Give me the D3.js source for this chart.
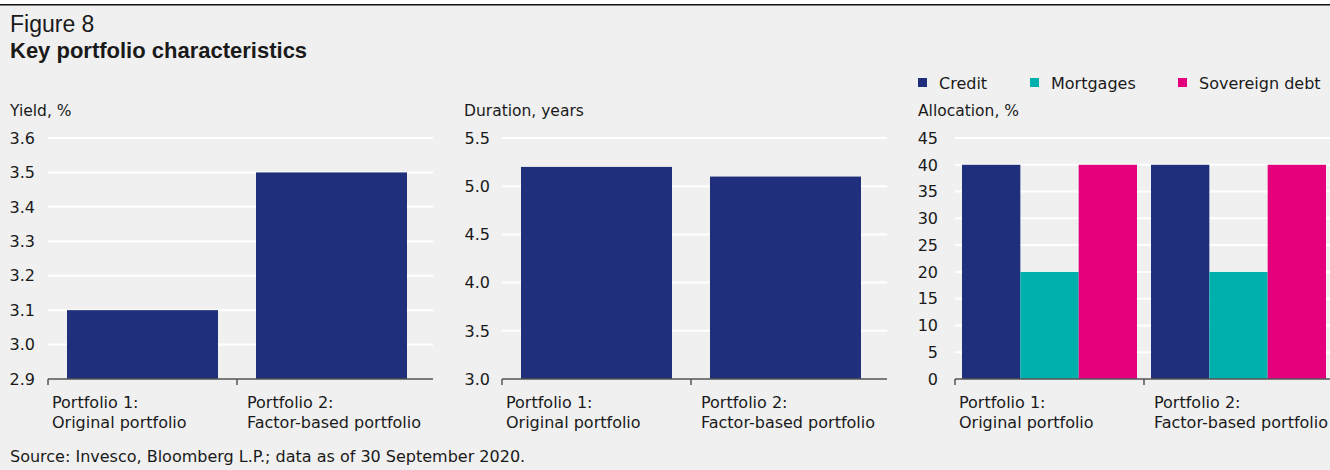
<!DOCTYPE html>
<html>
<head>
<meta charset="utf-8">
<script src="https://cdn.jsdelivr.net/npm/d3@7"></script>
<style>
    body { margin: 0; background: #f0f0f0; }
    svg { display: block; font-family: "DejaVu Sans", sans-serif; }
    .grid line { stroke: #ffffff; stroke-width: 2; }
    .axisLine { stroke: #555555; stroke-width: 1.5; }
    text { fill: #1a1a1a; }
    .head { font-family: "Liberation Sans", Arial, sans-serif; }
</style>
</head>
<body>
<svg width="1330" height="470"></svg>
<script>
// data
const portfolioNames = ["Portfolio 1", "Portfolio 2"]
const portfolioLabels = [["Portfolio 1:", "Original portfolio"], ["Portfolio 2:", "Factor-based portfolio"]]

const yieldValues = [3.1, 3.5]
const yieldTicks = [2.9, 3.0, 3.1, 3.2, 3.3, 3.4, 3.5, 3.6]

const durationValues = [5.2, 5.1]
const durationTicks = [3.0, 3.5, 4.0, 4.5, 5.0, 5.5]

const allocSeries = ["Credit", "Mortgages", "Sovereign debt"]
const creditAlloc = [40, 40]
const mortgageAlloc = [20, 20]
const sovereignAlloc = [40, 40]
const allocTicks = [0, 5, 10, 15, 20, 25, 30, 35, 40, 45]

const colors = {"Credit": "#1f2f7b", "Mortgages": "#00b0ad", "Sovereign debt": "#e4007c"}

const svg = d3.select("svg")

svg.append("rect")
    .attr("width", 1330)
    .attr("height", 470)
    .attr("fill", "#f0f0f0")

svg.append("rect")
    .attr("width", 1330)
    .attr("height", 4)
    .attr("fill", "#ffffff")

svg.append("line")
    .attr("x1", 0)
    .attr("x2", 1330)
    .attr("y1", 4.8)
    .attr("y2", 4.8)
    .attr("stroke", "#111")
    .attr("stroke-width", 1.6)

svg.append("text")
    .attr("class", "head")
    .attr("x", 10)
    .attr("y", 32)
    .style("font-size", "23px")
    .text("Figure 8")

svg.append("text")
    .attr("class", "head")
    .attr("x", 10)
    .attr("y", 58)
    .style("font-size", "22px")
    .style("font-weight", "bold")
    .text("Key portfolio characteristics")

svg.append("text")
    .attr("x", 10)
    .attr("y", 462)
    .style("font-size", "16px")
    .text("Source: Invesco, Bloomberg L.P.; data as of 30 September 2020.")

const yTop = 138
const yBottom = 379

function drawPanel(opts) {
    const g = svg.append("g")

    const x = d3.scaleBand()
        .domain(portfolioNames)
        .range([opts.left, opts.left + 378])

    const y = d3.scaleLinear()
        .domain(opts.domain)
        .range([yBottom, yTop])

    g.append("text")
        .attr("x", opts.titleX)
        .attr("y", 116)
        .style("font-size", "15.5px")
        .text(opts.title)

    // gridlines
    g.append("g")
        .attr("class", "grid")
        .selectAll("line")
        .data(opts.ticks.slice(1))
        .enter()
        .append("line")
        .attr("x1", opts.left)
        .attr("x2", opts.gridRight)
        .attr("y1", d => y(d))
        .attr("y2", d => y(d))

    g.selectAll("text.tick")
        .data(opts.ticks)
        .enter()
        .append("text")
        .attr("class", "tick")
        .attr("x", opts.labelRight)
        .attr("y", d => y(d))
        .attr("dy", "0.36em")
        .attr("text-anchor", "end")
        .style("font-size", "16px")
        .text(d => opts.format(d))

    opts.drawBars(g, x, y)

    // baseline and ticks
    g.append("line")
        .attr("class", "axisLine")
        .attr("x1", opts.left)
        .attr("x2", opts.gridRight)
        .attr("y1", yBottom)
        .attr("y2", yBottom)

    g.selectAll("line.tickMark")
        .data(portfolioNames)
        .enter()
        .append("line")
        .attr("class", "axisLine tickMark")
        .attr("x1", d => x(d))
        .attr("x2", d => x(d))
        .attr("y1", yBottom)
        .attr("y2", yBottom + 6)

    const labels = g.selectAll("text.cat")
        .data(portfolioLabels)
        .enter()
        .append("text")
        .attr("class", "cat")
        .style("font-size", "16px")

    labels.selectAll("tspan")
        .data((d, i) => d.map(line => ({line: line, i: i})))
        .enter()
        .append("tspan")
        .attr("x", d => x(portfolioNames[d.i]) + 4 + d.i * 6)
        .attr("y", (d, j) => 408 + j * 20)
        .text(d => d.line)
}

function singleBars(values) {
    return function(g, x, y) {
        g.selectAll("rect.bar")
            .data(values)
            .enter()
            .append("rect")
            .attr("class", "bar")
            .attr("x", (d, i) => x(portfolioNames[i]) + 19)
            .attr("width", x.bandwidth() - 38)
            .attr("y", d => y(d))
            .attr("height", d => yBottom - y(d))
            .attr("fill", colors["Credit"])
    }
}

drawPanel({
    left: 48, gridRight: 433, labelRight: 35, titleX: 10,
    title: "Yield, %", domain: [2.9, 3.6], ticks: yieldTicks,
    format: d3.format(".1f"),
    drawBars: singleBars(yieldValues)
})

drawPanel({
    left: 502, gridRight: 887, labelRight: 490, titleX: 464,
    title: "Duration, years", domain: [3.0, 5.5], ticks: durationTicks,
    format: d3.format(".1f"),
    drawBars: singleBars(durationValues)
})

const allocValues = {"Credit": creditAlloc, "Mortgages": mortgageAlloc, "Sovereign debt": sovereignAlloc}

drawPanel({
    left: 955, gridRight: 1330, labelRight: 938, titleX: 918,
    title: "Allocation, %", domain: [0, 45], ticks: allocTicks,
    format: d3.format("d"),
    drawBars: function(g, x, y) {
        const inner = d3.scaleBand()
            .domain(allocSeries)
            .range([7, x.bandwidth() - 7])

        const groups = g.selectAll("g.port")
            .data(portfolioNames)
            .enter()
            .append("g")
            .attr("class", "port")
            .attr("transform", d => `translate(${x(d)}, 0)`)

        groups.selectAll("rect")
            .data((d, i) => allocSeries.map(s => ({series: s, value: allocValues[s][i]})))
            .enter()
            .append("rect")
            .attr("x", d => inner(d.series))
            .attr("width", inner.bandwidth())
            .attr("y", d => y(d.value))
            .attr("height", d => yBottom - y(d.value))
            .attr("fill", d => colors[d.series])
    }
})

// legend
const legendX = [918, 1030, 1178]

const legend = svg.selectAll("g.legend")
    .data(allocSeries)
    .enter()
    .append("g")
    .attr("class", "legend")
    .attr("transform", (d, i) => `translate(${legendX[i]}, 78)`)

legend.append("rect")
    .attr("width", 9)
    .attr("height", 9)
    .attr("fill", d => colors[d])

legend.append("text")
    .attr("x", 21)
    .attr("y", 11)
    .style("font-size", "16px")
    .text(d => d)
</script>
</body>
</html>
